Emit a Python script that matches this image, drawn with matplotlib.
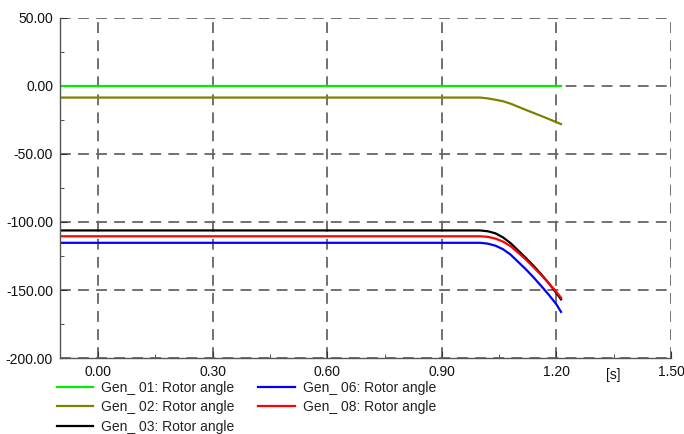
import matplotlib
matplotlib.use("Agg")
import matplotlib.pyplot as plt
from matplotlib.ticker import MultipleLocator, FormatStrFormatter

# Data (time in s, rotor angle in deg)
t = [-0.1, 1.00, 1.02, 1.04, 1.06, 1.08, 1.10, 1.12, 1.14, 1.16, 1.18, 1.20, 1.212]
gen01 = [0.0] * len(t)
gen02 = [-8.5, -8.5, -9.1, -10.1, -11.2, -13.0, -15.3, -17.6, -19.8, -22.0, -24.3, -26.6, -28.0]
gen03 = [-106.2, -106.2, -106.8, -108.3, -111.3, -115.6, -121.0, -126.5, -132.2, -138.4, -145.0, -152.3, -156.9]
gen06 = [-115.3, -115.3, -115.9, -117.4, -120.0, -124.0, -129.4, -134.8, -140.7, -147.0, -153.5, -160.6, -166.1]
gen08 = [-110.5, -110.5, -110.9, -112.2, -114.4, -117.8, -122.6, -127.6, -133.2, -139.0, -145.0, -151.5, -155.6]

series = [
    ("Gen_ 01: Rotor angle", gen01, "#00ee00"),
    ("Gen_ 02: Rotor angle", gen02, "#808000"),
    ("Gen_ 03: Rotor angle", gen03, "#000000"),
    ("Gen_ 06: Rotor angle", gen06, "#0000ff"),
    ("Gen_ 08: Rotor angle", gen08, "#ff0000"),
]

fig = plt.figure(figsize=(6.84, 4.34), dpi=100)
ax = fig.add_axes([60/684, 1-358/434, (671-60)/684, (358-18)/434])

for label, y, c in series:
    ax.plot(t, y, color=c, lw=1.6, label=label)

ax.set_xlim(-0.1, 1.5)
ax.set_ylim(-200, 50)
ax.xaxis.set_major_locator(MultipleLocator(0.3))
ax.xaxis.set_minor_locator(MultipleLocator(0.15))
ax.yaxis.set_major_locator(MultipleLocator(50))
ax.yaxis.set_minor_locator(MultipleLocator(25))
ax.xaxis.set_major_formatter(FormatStrFormatter("%.2f"))
ax.yaxis.set_major_formatter(FormatStrFormatter("%.2f"))

tickfont = "Liberation Sans"
for lab in ax.get_xticklabels() + ax.get_yticklabels():
    lab.set_fontfamily(tickfont)
    lab.set_fontsize(10)
ax.tick_params(axis="both", which="major", direction="in", length=5, color="#333333", labelcolor="#111111")
ax.tick_params(axis="both", which="minor", direction="in", length=3, color="#333333")
ax.tick_params(axis="x", pad=5)
ax.tick_params(axis="y", pad=5)

ax.grid(True, which="major", color="#666666", linestyle=(0, (6, 4)), linewidth=1.3)
for s in ["top", "right"]:
    ax.spines[s].set_visible(False)
for s in ["left", "bottom"]:
    ax.spines[s].set_color("#555555")
    ax.spines[s].set_linewidth(1.0)

ax.text(1.35, -10/340, "[s]", transform=ax.get_xaxis_transform(), ha="center", va="top",
        fontfamily=tickfont, fontsize=10, color="#111111")

leg = ax.legend(loc="upper left", bbox_to_anchor=(-3/611, -23/340), ncol=2, frameon=False,
                prop={"family": "Liberation Sans", "size": 10}, handlelength=2.6,
                handletextpad=0.6, columnspacing=1.7, labelspacing=0.38,
                borderaxespad=0, borderpad=0)
for txt in leg.get_texts():
    txt.set_color("#222222")

fig.savefig("out.png", dpi=100)
